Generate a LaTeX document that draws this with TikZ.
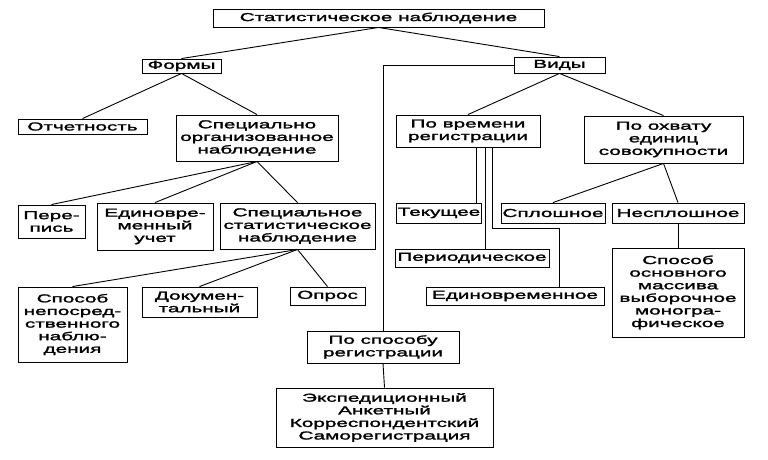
\documentclass[tikz,border=0pt]{standalone}
\usepackage{fontspec}
\setmainfont{Liberation Sans}[FakeStretch=1.8,FakeBold=2]
\usepackage{tikz}

\begin{document}
\begin{tikzpicture}[x=1pt,y=-1pt,line width=.9pt,
	box/.style={draw,align=center,inner sep=1pt,font=\fontsize{11.5}{12.6}\selectfont}]
	\useasboundingbox (0,0) rectangle (768,459);
	% top levels
	\node[box,minimum width=331,minimum height=18] (stat) at (378.5,18) {Статистическое наблюдение};
	\node[box,minimum width=79,minimum height=14] (formy) at (181.5,66) {Формы};
	\node[box,minimum width=91,minimum height=16] (vidy) at (559.5,65) {Виды};
	\draw (stat.south) -- (formy.north);
	\draw (stat.south) -- (vidy.north);
	% forms
	\node[box,minimum width=129,minimum height=15] (otch) at (82.5,126.5) {Отчетность};
	\node[box,minimum width=162,minimum height=46] (spec) at (257,138) {Специально\\организованное\\наблюдение};
	\draw (formy.south) -- (otch.north);
	\draw (formy.south) -- (spec.north);
	\node[box,minimum width=67,minimum height=33] (perep) at (51.5,221.5) {Пере-\\пись};
	\node[box,minimum width=116,minimum height=47] (edin) at (155,226.5) {Единовре-\\менный\\учет};
	\node[box,minimum width=155,minimum height=46] (sstat) at (297.5,226) {Специальное\\статистическое\\наблюдение};
	\draw (spec.south) -- (perep.north);
	\draw (spec.south) -- (edin.north);
	\draw (spec.south) -- (sstat.north);
	\node[box,minimum width=109,minimum height=75] (nepo) at (72.5,324.5) {Способ\\непосред-\\ственного\\наблю-\\дения};
	\node[box,minimum width=115,minimum height=30] (dok) at (199.5,302) {Докумен-\\тальный};
	\node[box,minimum width=75,minimum height=18] (opros) at (327.5,296) {Опрос};
	\draw (sstat.south) -- (nepo.north);
	\draw (sstat.south) -- (dok.north);
	\draw (sstat.south) -- (opros.north);
	% kinds
	\node[box,minimum width=144,minimum height=32] (povr) at (468,131) {По времени\\регистрации};
	\node[box,minimum width=159,minimum height=47] (pooh) at (663.5,139.5) {По охвату\\единиц\\совокупности};
	\draw (vidy.south) -- (povr.north);
	\draw (vidy.south) -- (pooh.north);
	\node[box,minimum width=84,minimum height=20] (tek) at (439,213) {Текущее};
	\node[box,minimum width=154,minimum height=18] (period) at (472,258) {Периодическое};
	\node[box,minimum width=178,minimum height=18] (edvr) at (515,296) {Единовременное};
	\draw ([xshift=8pt]povr.south) -- ([xshift=8pt]povr.south |- tek.north);
	\draw ([xshift=17pt]povr.south) -- ([xshift=17pt]povr.south |- period.north);
	\draw ([xshift=24pt]povr.south) -- ++(0,81) -| ([xshift=44pt]edvr.north);
	\node[box,minimum width=104,minimum height=20] (splo) at (553,213) {Сплошное};
	\node[box,minimum width=132,minimum height=20] (nesp) at (678,213) {Несплошное};
	\node[box,minimum width=132,minimum height=89] (osn) at (678,292.5) {Способ\\основного\\массива\\выборочное\\моногра-\\фическое};
	\draw (pooh.south) -- (splo.north);
	\draw (pooh.south) -- (nesp.north);
	\draw (nesp.south) -- (osn.north);
	% registration
	\node[box,minimum width=152,minimum height=32] (posp) at (383,347) {По способу\\регистрации};
	\node[box,minimum width=217,minimum height=59] (eksp) at (384.5,417.5) {Экспедиционный\\Анкетный\\Корреспондентский\\Саморегистрация};
	\draw (vidy.west) -| (posp.north);
	\draw (posp.south) -- (eksp.north);
\end{tikzpicture}
\end{document}
